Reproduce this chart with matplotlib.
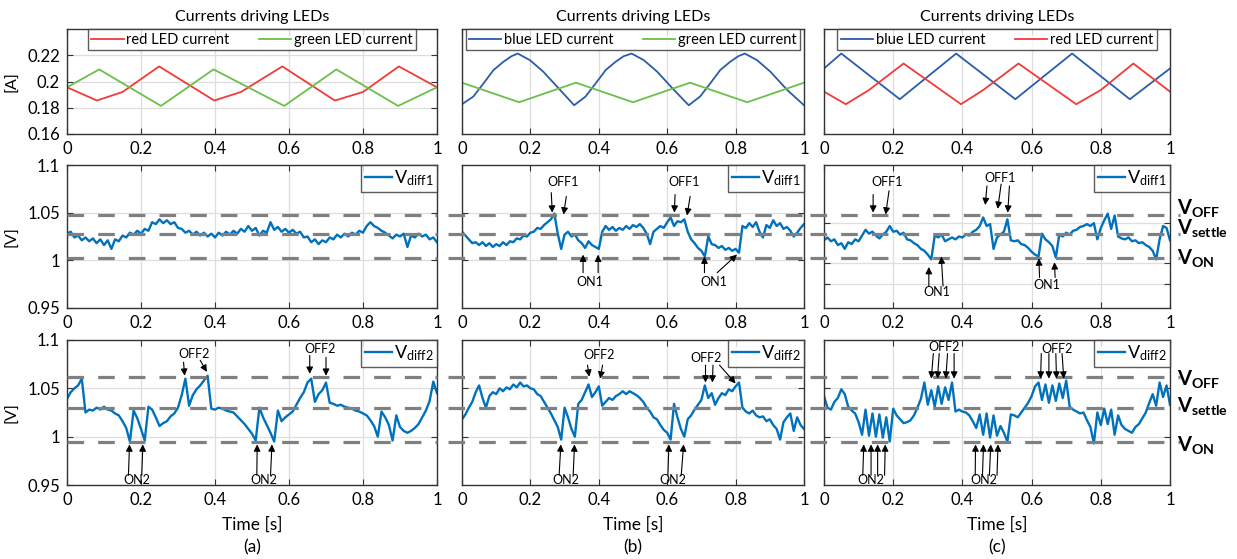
import numpy as np
import matplotlib
matplotlib.use('Agg')
import matplotlib.pyplot as plt

plt.rcParams['font.family'] = ['Lato', 'DejaVu Sans']
plt.rcParams['mathtext.fontset'] = 'custom'
plt.rcParams['mathtext.rm'] = 'Lato'
plt.rcParams['mathtext.bf'] = 'Lato:bold'
plt.rcParams['mathtext.it'] = 'Lato:italic'
plt.rcParams['mathtext.default'] = 'regular'

# ---- LED currents (vertex times / values) ----
red_a_t = [0, 0.081, 0.15, 0.249, 0.398, 0.47, 0.582, 0.724, 0.80, 0.897, 1.0]
red_a_v = [0.1956, 0.1855, 0.192, 0.2115, 0.1855, 0.192, 0.2115, 0.1855, 0.192, 0.2115, 0.1956]
green_a_t = [0, 0.087, 0.254, 0.396, 0.587, 0.728, 0.895, 1.0]
green_a_v = [0.1956, 0.2092, 0.1814, 0.2092, 0.1814, 0.2092, 0.1814, 0.1956]

blue_b_t = [0, 0.033, 0.063, 0.092, 0.121, 0.145, 0.163, 0.199, 0.238, 0.287, 0.328,
            0.361, 0.391, 0.420, 0.449, 0.473, 0.496, 0.532, 0.571, 0.620, 0.663,
            0.696, 0.726, 0.755, 0.784, 0.808, 0.827, 0.863, 0.902, 0.951, 1.0]
blue_b_v = [0.1827, 0.1885, 0.1986, 0.2087, 0.215, 0.2193, 0.2213, 0.2162, 0.2074, 0.1935, 0.1819,
            0.1885, 0.1986, 0.2087, 0.215, 0.2193, 0.2213, 0.2162, 0.2074, 0.1935, 0.1819,
            0.1885, 0.1986, 0.2087, 0.215, 0.2193, 0.2213, 0.2162, 0.2074, 0.1935, 0.1819]
green_b_t = [0, 0.167, 0.333, 0.5, 0.667, 0.834, 1.0]
green_b_v = [0.1991, 0.1842, 0.1991, 0.1842, 0.1991, 0.1842, 0.1991]

blue_c_t = [0, 0.050, 0.219, 0.382, 0.553, 0.717, 0.884, 1.0]
blue_c_v = [0.2099, 0.2213, 0.1865, 0.2213, 0.1865, 0.2213, 0.1865, 0.2099]
red_c_t = [0, 0.063, 0.13, 0.230, 0.396, 0.46, 0.562, 0.729, 0.80, 0.894, 1.0]
red_c_v = [0.1923, 0.1827, 0.1935, 0.2137, 0.1827, 0.1935, 0.2137, 0.1827, 0.1935, 0.2137, 0.1923]

# ---- measured voltages, sampled every 10 ms ----
vd1_a = [1.028, 1.030, 1.024, 1.026, 1.021, 1.024, 1.020, 1.023, 1.018, 1.022,
         1.016, 1.021, 1.012, 1.022, 1.020, 1.026, 1.024, 1.029, 1.027, 1.031,
         1.028, 1.033, 1.031, 1.040, 1.038, 1.043, 1.039, 1.042, 1.038, 1.040,
         1.034, 1.033, 1.029, 1.031, 1.027, 1.030, 1.026, 1.029, 1.025, 1.028,
         1.024, 1.029, 1.026, 1.030, 1.027, 1.031, 1.028, 1.033, 1.030, 1.036,
         1.031, 1.034, 1.026, 1.031, 1.029, 1.040, 1.032, 1.035, 1.030, 1.033,
         1.029, 1.032, 1.028, 1.030, 1.024, 1.025, 1.019, 1.022, 1.017, 1.021,
         1.019, 1.024, 1.022, 1.027, 1.024, 1.028, 1.025, 1.029, 1.027, 1.031,
         1.029, 1.036, 1.040, 1.036, 1.034, 1.031, 1.029, 1.026, 1.023, 1.027,
         1.025, 1.028, 1.014, 1.026, 1.024, 1.028, 1.025, 1.027, 1.022, 1.024, 1.019]
vd1_b = [1.030, 1.026, 1.022, 1.018, 1.019, 1.016, 1.019, 1.015, 1.018, 1.014,
         1.017, 1.015, 1.019, 1.016, 1.020, 1.019, 1.023, 1.022, 1.026, 1.025,
         1.029, 1.030, 1.034, 1.033, 1.037, 1.040, 1.043, 1.049, 1.028, 1.012,
         1.027, 1.030, 1.025, 1.027, 1.021, 1.018, 1.013, 1.020, 1.016, 1.014,
         1.012, 1.030, 1.036, 1.032, 1.035, 1.031, 1.034, 1.032, 1.036, 1.033,
         1.037, 1.035, 1.038, 1.034, 1.028, 1.017, 1.030, 1.033, 1.036, 1.034,
         1.040, 1.045, 1.036, 1.041, 1.040, 1.043, 1.030, 1.022, 1.018, 1.013,
         1.010, 1.004, 1.025, 1.017, 1.016, 1.013, 1.015, 1.011, 1.013, 1.010,
         1.012, 1.008, 1.036, 1.034, 1.039, 1.035, 1.040, 1.030, 1.024, 1.037,
         1.034, 1.042, 1.036, 1.039, 1.033, 1.035, 1.031, 1.025, 1.029, 1.034, 1.038]
vd1_c = [1.021, 1.024, 1.020, 1.022, 1.016, 1.018, 1.012, 1.019, 1.017, 1.022,
         1.020, 1.026, 1.032, 1.028, 1.030, 1.026, 1.023, 1.027, 1.030, 1.036,
         1.030, 1.031, 1.027, 1.029, 1.022, 1.021, 1.018, 1.016, 1.012, 1.010,
         1.006, 1.001, 1.026, 1.024, 1.027, 1.020, 1.022, 1.024, 1.022, 1.025,
         1.024, 1.027, 1.026, 1.030, 1.032, 1.036, 1.045, 1.036, 1.038, 1.012,
         1.024, 1.027, 1.030, 1.043, 1.021, 1.020, 1.021, 1.017, 1.016, 1.013,
         1.009, 1.006, 1.004, 1.028, 1.022, 1.019, 1.015, 1.003, 1.027, 1.025,
         1.029, 1.027, 1.031, 1.032, 1.035, 1.036, 1.038, 1.036, 1.039, 1.022,
         1.034, 1.042, 1.049, 1.033, 1.047, 1.025, 1.023, 1.022, 1.024, 1.020,
         1.021, 1.018, 1.019, 1.016, 1.014, 1.010, 1.001, 1.022, 1.036, 1.034, 1.021]
vd2_a = [1.039, 1.046, 1.050, 1.053, 1.060, 1.025, 1.028, 1.027, 1.030, 1.028,
         1.031, 1.028, 1.027, 1.024, 1.022, 1.016, 1.009, 0.995, 1.027, 1.019,
         1.008, 0.996, 1.031, 1.028, 1.020, 1.011, 1.014, 1.016, 1.021, 1.024,
         1.030, 1.043, 1.060, 1.032, 1.043, 1.049, 1.053, 1.058, 1.063, 1.029,
         1.028, 1.030, 1.029, 1.027, 1.026, 1.025, 1.021, 1.017, 1.013, 1.008,
         1.003, 0.996, 1.030, 1.020, 1.012, 1.004, 0.995, 1.027, 1.016, 1.020,
         1.023, 1.026, 1.033, 1.040, 1.046, 1.056, 1.060, 1.036, 1.044, 1.048,
         1.056, 1.035, 1.034, 1.032, 1.033, 1.031, 1.030, 1.029, 1.027, 1.026,
         1.024, 1.022, 1.017, 1.011, 1.000, 1.026, 1.020, 1.012, 0.996, 1.022,
         1.010, 1.006, 1.004, 1.006, 1.009, 1.013, 1.020, 1.027, 1.037, 1.057, 1.045]
vd2_b = [1.018, 1.023, 1.030, 1.036, 1.046, 1.053, 1.040, 1.030, 1.042, 1.046,
         1.044, 1.050, 1.047, 1.051, 1.049, 1.054, 1.051, 1.056, 1.052, 1.053,
         1.050, 1.049, 1.044, 1.042, 1.036, 1.030, 1.024, 1.017, 1.010, 0.997,
         1.030, 1.020, 1.008, 1.000, 1.034, 1.038, 1.046, 1.054, 1.041, 1.046,
         1.052, 1.032, 1.036, 1.040, 1.038, 1.042, 1.044, 1.047, 1.044, 1.047,
         1.045, 1.043, 1.040, 1.036, 1.030, 1.026, 1.020, 1.018, 1.012, 1.007,
         1.004, 0.997, 1.034, 1.020, 1.008, 1.000, 1.018, 1.022, 1.028, 1.033,
         1.038, 1.053, 1.040, 1.045, 1.033, 1.040, 1.045, 1.043, 1.049, 1.047,
         1.052, 1.056, 1.030, 1.026, 1.024, 1.027, 1.022, 1.020, 1.021, 1.016,
         1.018, 1.012, 1.008, 0.997, 1.015, 1.020, 1.024, 1.006, 1.020, 1.012, 1.008]
vd2_c = [1.042, 1.030, 1.028, 1.036, 1.040, 1.049, 1.044, 1.031, 1.027, 1.024,
         1.015, 1.002, 1.028, 1.001, 1.024, 1.000, 1.023, 0.999, 1.020, 0.995,
         1.029, 1.022, 1.018, 1.014, 1.015, 1.017, 1.022, 1.030, 1.039, 1.056,
         1.033, 1.048, 1.031, 1.052, 1.034, 1.051, 1.038, 1.056, 1.026, 1.028,
         1.026, 1.025, 1.022, 1.016, 1.009, 1.023, 1.002, 1.024, 0.999, 1.022,
         1.001, 1.011, 1.004, 0.995, 1.023, 1.022, 1.020, 1.025, 1.030, 1.035,
         1.042, 1.052, 1.056, 1.038, 1.054, 1.035, 1.053, 1.037, 1.055, 1.040,
         1.058, 1.031, 1.028, 1.026, 1.024, 1.025, 1.017, 1.010, 0.993, 1.025,
         1.012, 1.029, 1.013, 1.028, 1.002, 1.022, 1.012, 1.008, 1.006, 1.004,
         1.010, 1.013, 1.019, 1.025, 1.035, 1.044, 1.032, 1.056, 1.041, 1.053, 1.033]

# threshold levels (V_OFF, V_settle, V_ON)
levels_1 = [1.048, 1.028, 1.002]
levels_2 = [1.062, 1.030, 0.994]

# arrow annotations: label, label position, list of (tail, head)
ann_b1 = [('OFF1', (0.295, 1.082), [((0.261, 1.071), (0.264, 1.050)), ((0.305, 1.067), (0.297, 1.048))]),
          ('OFF1', (0.648, 1.082), [((0.623, 1.069), (0.621, 1.050)), ((0.667, 1.067), (0.658, 1.047))]),
          ('ON1', (0.374, 0.977), [((0.354, 0.987), (0.354, 1.006)), ((0.398, 0.987), (0.398, 1.006))]),
          ('ON1', (0.736, 0.977), [((0.709, 0.987), (0.709, 1.004)), ((0.746, 0.987), (0.804, 1.006))])]
ann_c1 = [('OFF1', (0.181, 1.082), [((0.142, 1.069), (0.142, 1.050)), ((0.188, 1.073), (0.178, 1.048))]),
          ('OFF1', (0.51, 1.086), [((0.471, 1.078), (0.466, 1.058)), ((0.512, 1.080), (0.502, 1.054)),
                                   ((0.536, 1.078), (0.531, 1.050))]),
          ('ON1', (0.327, 0.967), [((0.303, 0.973), (0.303, 0.993)), ((0.344, 0.973), (0.339, 1.004))]),
          ('ON1', (0.644, 0.974), [((0.623, 0.982), (0.621, 1.002)), ((0.668, 0.982), (0.666, 0.998))])]
ann_a2 = [('OFF2', (0.344, 1.086), [((0.315, 1.077), (0.318, 1.063)), ((0.36, 1.079), (0.378, 1.067))]),
          ('OFF2', (0.683, 1.091), [((0.656, 1.084), (0.656, 1.065)), ((0.70, 1.082), (0.70, 1.063))]),
          ('ON2', (0.189, 0.955), [((0.166, 0.960), (0.169, 0.992)), ((0.202, 0.960), (0.205, 0.992))]),
          ('ON2', (0.531, 0.955), [((0.513, 0.960), (0.514, 0.992)), ((0.55, 0.960), (0.554, 0.992))])]
ann_b2 = [('OFF2', (0.401, 1.084), [((0.367, 1.074), (0.372, 1.062)), ((0.411, 1.074), (0.404, 1.060))]),
          ('OFF2', (0.714, 1.081), [((0.712, 1.074), (0.712, 1.056)), ((0.734, 1.074), (0.732, 1.056)),
                                    ((0.753, 1.074), (0.80, 1.055))]),
          ('ON2', (0.303, 0.955), [((0.284, 0.960), (0.289, 0.992)), ((0.325, 0.960), (0.329, 0.992))]),
          ('ON2', (0.616, 0.955), [((0.602, 0.960), (0.605, 0.992)), ((0.641, 0.960), (0.648, 0.992))])]
ann_c2 = [('OFF2', (0.347, 1.093), [((0.316, 1.086), (0.310, 1.060)), ((0.333, 1.086), (0.328, 1.060)),
                                    ((0.357, 1.086), (0.352, 1.060)), ((0.376, 1.086), (0.376, 1.060))]),
          ('OFF2', (0.674, 1.091), [((0.628, 1.086), (0.626, 1.060)), ((0.650, 1.086), (0.650, 1.060)),
                                    ((0.670, 1.086), (0.672, 1.060)), ((0.688, 1.086), (0.693, 1.060))]),
          ('ON2', (0.136, 0.955), [((0.112, 0.960), (0.115, 0.992)), ((0.136, 0.960), (0.136, 0.992)),
                                   ((0.155, 0.960), (0.155, 0.992)), ((0.175, 0.960), (0.177, 0.992))]),
          ('ON2', (0.463, 0.955), [((0.437, 0.960), (0.438, 0.992)), ((0.458, 0.960), (0.461, 0.992)),
                                   ((0.478, 0.960), (0.482, 0.992)), ((0.500, 0.960), (0.503, 0.992))])]

xtick_vals = [0, 0.2, 0.4, 0.6, 0.8, 1]
xtick_labels = ['0', '0.2', '0.4', '0.6', '0.8', '1']

RED = '#f23a3a'
GREEN = '#6cbf4a'
DBLUE = '#2a5caa'
TRACE = '#0072bd'
GRID = '#dedede'

fig = plt.figure(figsize=(12.37, 5.59), dpi=100)

lefts = [67 / 1237, 462 / 1237, 824 / 1237]
widths = [370 / 1237, 342 / 1237, 346 / 1237]
rows = [(1 - 134 / 559, 105 / 559), (1 - 308 / 559, 143 / 559), (1 - 485 / 559, 145 / 559)]

axes = [[fig.add_axes([lefts[c], rows[r][0], widths[c], rows[r][1]]) for c in range(3)] for r in range(3)]


def style(ax):
    ax.set_xlim(0, 1)
    ax.set_xticks(xtick_vals)
    ax.set_xticklabels(xtick_labels)
    ax.tick_params(direction='in', length=4, labelsize=12, top=True, right=True, pad=5,
                   color='#333333')
    ax.grid(True, color=GRID, linewidth=0.9)
    ax.set_axisbelow(True)
    for s in ax.spines.values():
        s.set_linewidth(1.0)
        s.set_color('#333333')


# ---- top row: currents ----
top_series = [
    [(red_a_t, red_a_v, RED, 'red LED current'), (green_a_t, green_a_v, GREEN, 'green LED current')],
    [(blue_b_t, blue_b_v, DBLUE, 'blue LED current'), (green_b_t, green_b_v, GREEN, 'green LED current')],
    [(blue_c_t, blue_c_v, DBLUE, 'blue LED current'), (red_c_t, red_c_v, RED, 'red LED current')],
]
for c in range(3):
    ax = axes[0][c]
    style(ax)
    for tt, vv, col, lab in top_series[c]:
        ax.plot(tt, vv, color=col, lw=1.3, label=lab)
    ax.set_ylim(0.16, 0.24)
    if c == 0:
        ax.set_yticks([0.16, 0.18, 0.2, 0.22])
        ax.set_yticklabels(['0.16', '0.18', '0.2', '0.22'])
        ax.set_ylabel('[A]', fontsize=11.5, labelpad=6)
    else:
        ax.set_yticks([])
    ax.set_title('Currents driving LEDs', fontsize=11.5, pad=6)
    leg = ax.legend(loc='upper center', bbox_to_anchor=(0.5, 1.0), ncol=2, fontsize=10.5,
                    frameon=True, fancybox=False, edgecolor='#333333', borderaxespad=0,
                    handlelength=2.2, handletextpad=0.2, columnspacing=2.0,
                    borderpad=0.25)
    leg.get_frame().set_linewidth(1.0)

# ---- middle and bottom rows: voltages ----
t = np.linspace(0, 1, 101)
volt = [[vd1_a, vd1_b, vd1_c], [vd2_a, vd2_b, vd2_c]]
leg_labels = ['$V_{diff1}$', '$V_{diff2}$']
levels = [levels_1, levels_2]
anns = [[None, ann_b1, ann_c1], [ann_a2, ann_b2, ann_c2]]

for r in range(2):
    for c in range(3):
        ax = axes[r + 1][c]
        style(ax)
        ax.plot(t, volt[r][c], color=TRACE, lw=1.7, label=leg_labels[r])
        ax.set_ylim(0.95, 1.1)
        if c == 0:
            ax.set_yticks([0.95, 1.0, 1.05, 1.1])
            ax.set_yticklabels(['0.95', '1', '1.05', '1.1'])
            ax.set_ylabel('[V]', fontsize=11.5, labelpad=6)
            x0, x1 = 0, 1
        else:
            if r == 0 and c == 2:
                ax.set_yticks([0.9756, 0.9967, 1.0392])
            else:
                ax.set_yticks([1.0, 1.05])
            ax.set_yticklabels([])
            x0, x1 = -0.04, 1.03
        for lv in levels[r]:
            ax.plot([x0, x1], [lv, lv], color='#808080', lw=2.3, dashes=(5.2, 4.4),
                    clip_on=False, zorder=4)
        leg = ax.legend(loc='upper right', fontsize=13, frameon=True, fancybox=False,
                        edgecolor='#333333', borderaxespad=0, handlelength=1.5,
                        handletextpad=0.1, borderpad=0.2)
        leg.get_frame().set_linewidth(1.0)
        leg.set_zorder(6)
        if anns[r][c] is not None:
            for lab, pos, arrows in anns[r][c]:
                ax.text(pos[0], pos[1], lab, fontsize=9, ha='center', va='center', zorder=7)
                for tail, head in arrows:
                    ax.annotate('', xy=head, xytext=tail, zorder=7,
                                arrowprops=dict(arrowstyle='-|>', color='black', lw=0.8,
                                                mutation_scale=10, shrinkA=0, shrinkB=0))
        if r == 1:
            ax.set_xlabel('Time [s]', fontsize=12.5, labelpad=6)

for c, lab in enumerate(['(a)', '(b)', '(c)']):
    fig.text(lefts[c] + widths[c] / 2, 1 - 547 / 559, lab, fontsize=12.5, ha='center', va='center')

# threshold names on the right
right_labels = [
    ('$\\mathbf{V_{OFF}}$', 215), ('$\\mathbf{V_{settle}}$', 235), ('$\\mathbf{V_{ON}}$', 265),
    ('$\\mathbf{V_{OFF}}$', 386), ('$\\mathbf{V_{settle}}$', 413), ('$\\mathbf{V_{ON}}$', 452),
]
for s, ypx in right_labels:
    fig.text(1177 / 1237, 1 - ypx / 559, s, fontsize=14.5, ha='left', va='baseline')

fig.savefig('out.png', dpi=100)
